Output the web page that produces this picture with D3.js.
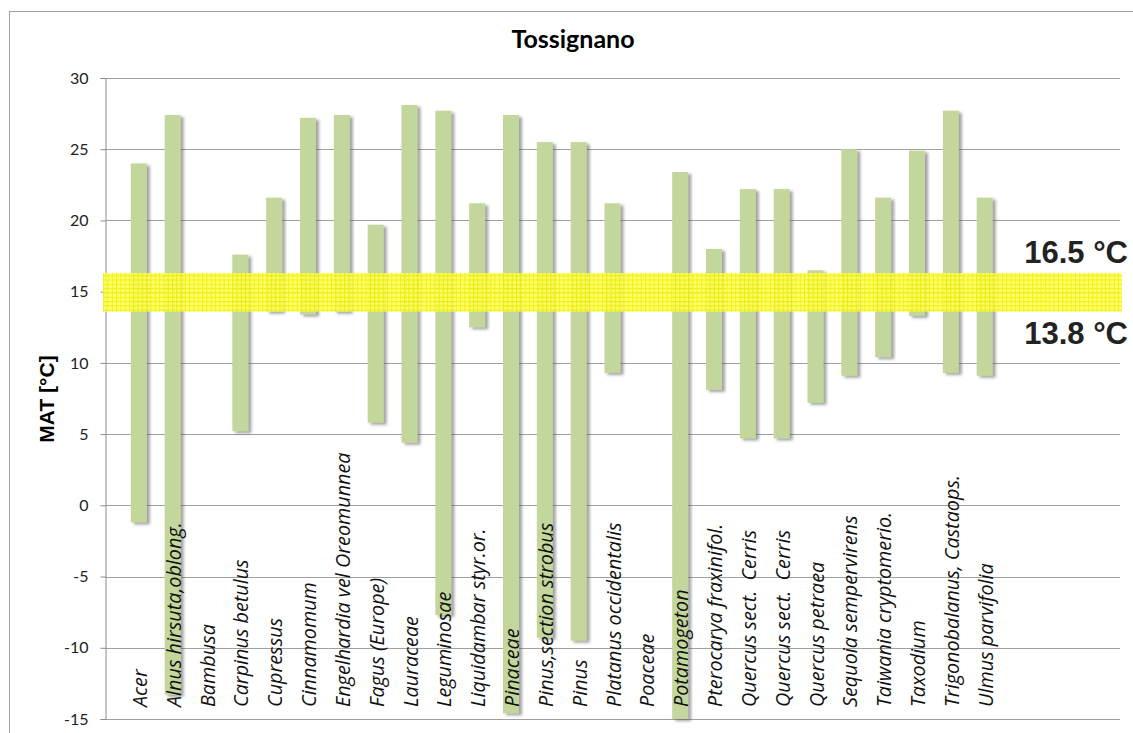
<!DOCTYPE html>
<html>
<head>
<meta charset="utf-8">
<script src="https://cdn.jsdelivr.net/npm/d3@7/dist/d3.min.js"></script>
<style>
  body { margin: 0; background: #fff; }
  svg { display: block; }
</style>
</head>
<body>
<script>
// taxa (x-as, posities 1..26)
var taxa = ["Acer", "Alnus hirsuta,oblong.", "Bambusa", "Carpinus betulus", "Cupressus", "Cinnamomum",
  "Engelhardia vel Oreomunnea", "Fagus (Europe)", "Lauraceae", "Leguminosae", "Liquidambar styr.or.",
  "Pinaceae", "Pinus,section strobus", "Pinus", "Platanus occidentalis", "Poaceae", "Potamogeton",
  "Pterocarya fraxinifol.", "Quercus sect.  Cerris", "Quercus sect.  Cerris", "Quercus petraea",
  "Sequoia sempervirens", "Taiwania cryptomerio.", "Taxodium", "Trigonobalanus, Castaops.", "Ulmus parvifolia"];

// MAT bereik per taxon (null = geen balk)
var lowMAT = [-1.2, -13.3, null, 5.2, 13.6, 13.4, 13.6, 5.8, 4.4, -7.7, 12.5, -14.6, -9.3, -9.5, 9.3, null, -15,
  8.1, 4.7, 4.7, 7.2, 9.1, 10.4, 13.3, 9.3, 9.1];
var highMAT = [24.0, 27.4, null, 17.6, 21.6, 27.2, 27.4, 19.7, 28.1, 27.7, 21.2, 27.4, 25.5, 25.5, 21.2, null, 23.4,
  18.0, 22.2, 22.2, 16.5, 25.0, 21.6, 24.9, 27.7, 21.6];

var yTicks = [-15, -10, -5, 0, 5, 10, 15, 20, 25, 30];

// geel band (coexistentie-interval)
var bandRange = [13.6, 16.3];
var bandLabels = ["16.5 °C", "13.8 °C"];

var width = 1133;
var height = 733;

var svg = d3.select("body").append("svg")
  .attr("width", width)
  .attr("height", height);

var x = d3.scaleLinear().domain([0, 30]).range([105, 1120]);
var y = d3.scaleLinear().domain([-15, 30]).range([719, 78]);

var defs = svg.append("defs");

var shadow = defs.append("filter")
  .attr("id", "shadow")
  .attr("x", "-30%").attr("y", "-5%")
  .attr("width", "160%").attr("height", "110%");
shadow.append("feDropShadow")
  .attr("dx", 3).attr("dy", 2)
  .attr("stdDeviation", 1.4)
  .attr("flood-color", "#555")
  .attr("flood-opacity", 0.55);

var pattern = defs.append("pattern")
  .attr("id", "grid")
  .attr("width", 4.3).attr("height", 4.3)
  .attr("patternUnits", "userSpaceOnUse");
pattern.append("rect")
  .attr("width", 4.3).attr("height", 4.3)
  .attr("fill", "#ffff58");
pattern.append("path")
  .attr("d", "M0,0.5H4.3M0.5,0V4.3")
  .attr("stroke", "#eeee00")
  .attr("stroke-width", 1);

// kader rond de grafiek
svg.append("rect")
  .attr("x", 9.5).attr("y", 11.5)
  .attr("width", 1140).attr("height", 740)
  .attr("fill", "none")
  .attr("stroke", "#a0a0a0")
  .attr("stroke-width", 1);

// rasterlijnen
svg.append("g")
  .selectAll("line")
  .data(yTicks)
  .enter()
  .append("line")
  .attr("x1", x(0))
  .attr("x2", x(30))
  .attr("y1", d => Math.round(y(d)) + 0.5)
  .attr("y2", d => Math.round(y(d)) + 0.5)
  .attr("stroke", "#a0a0a0");

// y-as
var yAxis = svg.append("g")
  .attr("transform", "translate(" + (x(0) + 0.5) + ",0)")
  .call(d3.axisLeft(y).tickValues(yTicks).tickFormat(d => String(d)).tickSize(5).tickPadding(12));
yAxis.select(".domain").attr("stroke", "#8c8c8c");
yAxis.selectAll(".tick line").attr("stroke", "#8c8c8c");
yAxis.selectAll(".tick text")
  .attr("font-family", "Lato, sans-serif")
  .attr("font-size", "16px")
  .attr("fill", "#222");

// balken
var bars = taxa.map((t, i) => ({ name: t, pos: i + 1, lo: lowMAT[i], hi: highMAT[i] }));

svg.append("g")
  .selectAll("rect")
  .data(bars.filter(d => d.lo != null))
  .enter()
  .append("rect")
  .attr("x", d => x(d.pos) - 8)
  .attr("width", 16)
  .attr("y", d => y(d.hi))
  .attr("height", d => y(d.lo) - y(d.hi))
  .attr("fill", "#c3d69b")
  .attr("filter", "url(#shadow)");

// gele band erover
svg.append("rect")
  .attr("x", x(0) - 2)
  .attr("width", x(30) - x(0) + 4)
  .attr("y", y(bandRange[1]))
  .attr("height", y(bandRange[0]) - y(bandRange[1]))
  .attr("fill", "url(#grid)")
  .attr("opacity", 0.9);

// labels van de taxa
svg.append("g")
  .selectAll("text")
  .data(bars)
  .enter()
  .append("text")
  .attr("transform", d => "translate(" + (x(d.pos) + 8) + ",707) rotate(-90)")
  .attr("font-family", "Open Sans, sans-serif")
  .attr("font-style", "italic")
  .attr("font-size", "19.8px")
  .attr("fill", "#111")
  .attr("xml:space", "preserve")
  .text(d => d.name);

// bandlabels
svg.append("text")
  .attr("x", 1128).attr("y", 263)
  .attr("text-anchor", "end")
  .attr("font-family", "Liberation Sans, Arial, sans-serif")
  .attr("font-weight", "bold")
  .attr("font-size", "31px")
  .attr("fill", "#222")
  .text(bandLabels[0]);
svg.append("text")
  .attr("x", 1128).attr("y", 344)
  .attr("text-anchor", "end")
  .attr("font-family", "Liberation Sans, Arial, sans-serif")
  .attr("font-weight", "bold")
  .attr("font-size", "31px")
  .attr("fill", "#222")
  .text(bandLabels[1]);

// titel
svg.append("text")
  .attr("x", 573).attr("y", 48)
  .attr("text-anchor", "middle")
  .attr("font-family", "Lato, sans-serif")
  .attr("font-weight", "bold")
  .attr("font-size", "25px")
  .attr("fill", "#000")
  .text("Tossignano");

// y-as titel
svg.append("text")
  .attr("transform", "translate(54,399) rotate(-90)")
  .attr("text-anchor", "middle")
  .attr("font-family", "Liberation Sans, Arial, sans-serif")
  .attr("font-weight", "bold")
  .attr("font-size", "21px")
  .attr("fill", "#000")
  .text("MAT [°C]");
</script>
</body>
</html>
